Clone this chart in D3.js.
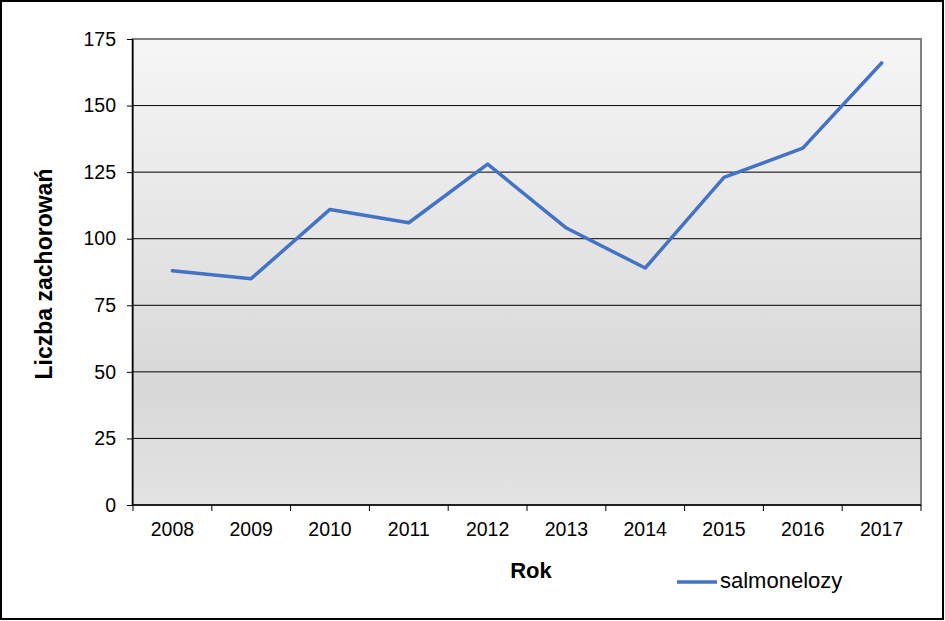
<!DOCTYPE html>
<html><head><meta charset="utf-8">
<script src="https://cdn.jsdelivr.net/npm/d3@7"></script>
<style>body{margin:0;background:#fff}svg{display:block}text{font-family:"Liberation Sans",Arial,sans-serif}</style>
</head><body><svg id="c" width="945" height="621"></svg>
<script>
const years = ["2008","2009","2010","2011","2012","2013","2014","2015","2016","2017"];
const salmonelozy = [88,85,111,106,128,104,89,123,134,166];
const yTicks = [0,25,50,75,100,125,150,175];
const seriesName = "salmonelozy";

const svg = d3.select("#c");
const m = {l:133, t:39, r:921, b:505};
svg.append("rect").attr("x",1).attr("y",1).attr("width",942).attr("height",618).attr("fill","#fff").attr("stroke","#000").attr("stroke-width",2);

const defs = svg.append("defs");
const g = defs.append("linearGradient").attr("id","bg").attr("x1",0).attr("y1",0).attr("x2",0).attr("y2",1);
g.append("stop").attr("offset","0%").attr("stop-color","#f6f6f6");
g.append("stop").attr("offset","75%").attr("stop-color","#d8d8d8");
g.append("stop").attr("offset","100%").attr("stop-color","#e3e3e3");

const x = d3.scaleBand().domain(years).range([m.l,m.r]);
const y = d3.scaleLinear().domain([0,175]).range([m.b,m.t]);

svg.append("rect").attr("x",m.l).attr("y",m.t).attr("width",m.r-m.l).attr("height",m.b-m.t)
  .attr("fill","url(#bg)").attr("stroke","#808080").attr("stroke-width",2);

svg.append("g").selectAll("line").data(yTicks.filter(d=>d>0 && d<175)).join("line")
  .attr("x1",m.l).attr("x2",m.r).attr("y1",d=>y(d)).attr("y2",d=>y(d))
  .attr("stroke","#000").attr("stroke-width",1);

const ya = svg.append("g").attr("transform",`translate(${m.l},0)`)
  .call(d3.axisLeft(y).tickValues(yTicks).tickSize(6).tickPadding(11));
ya.select(".domain").attr("stroke","#000").attr("stroke-width",1.5).attr("d",`M-0.5,${m.t}V${m.b}`);
ya.selectAll("text").attr("font-size",19.5).attr("fill","#000").style("font-family","'Liberation Sans',Arial,sans-serif");

const xa = svg.append("g").attr("transform",`translate(0,${m.b})`)
  .call(d3.axisBottom(x).tickSize(0).tickPadding(17));
xa.select(".domain").attr("stroke","#000").attr("stroke-width",1.5).attr("d",`M${m.l},0H${m.r}`);
xa.selectAll("text").attr("font-size",19.5).attr("fill","#000").style("font-family","'Liberation Sans',Arial,sans-serif");
xa.append("g").selectAll("line").data(years.concat(["end"])).join("line")
  .attr("x1",(d,i)=>m.l+i*x.step()).attr("x2",(d,i)=>m.l+i*x.step())
  .attr("y1",0).attr("y2",6).attr("stroke","#000").attr("stroke-width",1);

const line = d3.line().x((d,i)=>x(years[i])+x.bandwidth()/2).y(d=>y(d));
svg.append("path").datum(salmonelozy).attr("d",line).attr("fill","none")
  .attr("stroke","#4472c4").attr("stroke-width",3.5).attr("stroke-linejoin","round").attr("stroke-linecap","round");

svg.append("text").attr("transform","translate(52,274) rotate(-90)").attr("text-anchor","middle")
  .attr("font-size",23).attr("font-weight","bold").text("Liczba zachorowań");
svg.append("text").attr("x",531).attr("y",578).attr("text-anchor","middle")
  .attr("font-size",22).attr("font-weight","bold").text("Rok");

svg.append("line").attr("x1",677).attr("x2",717).attr("y1",582).attr("y2",582)
  .attr("stroke","#4472c4").attr("stroke-width",3.5);
svg.append("text").attr("x",720).attr("y",588).attr("font-size",22).text(seriesName);
</script></body></html>
